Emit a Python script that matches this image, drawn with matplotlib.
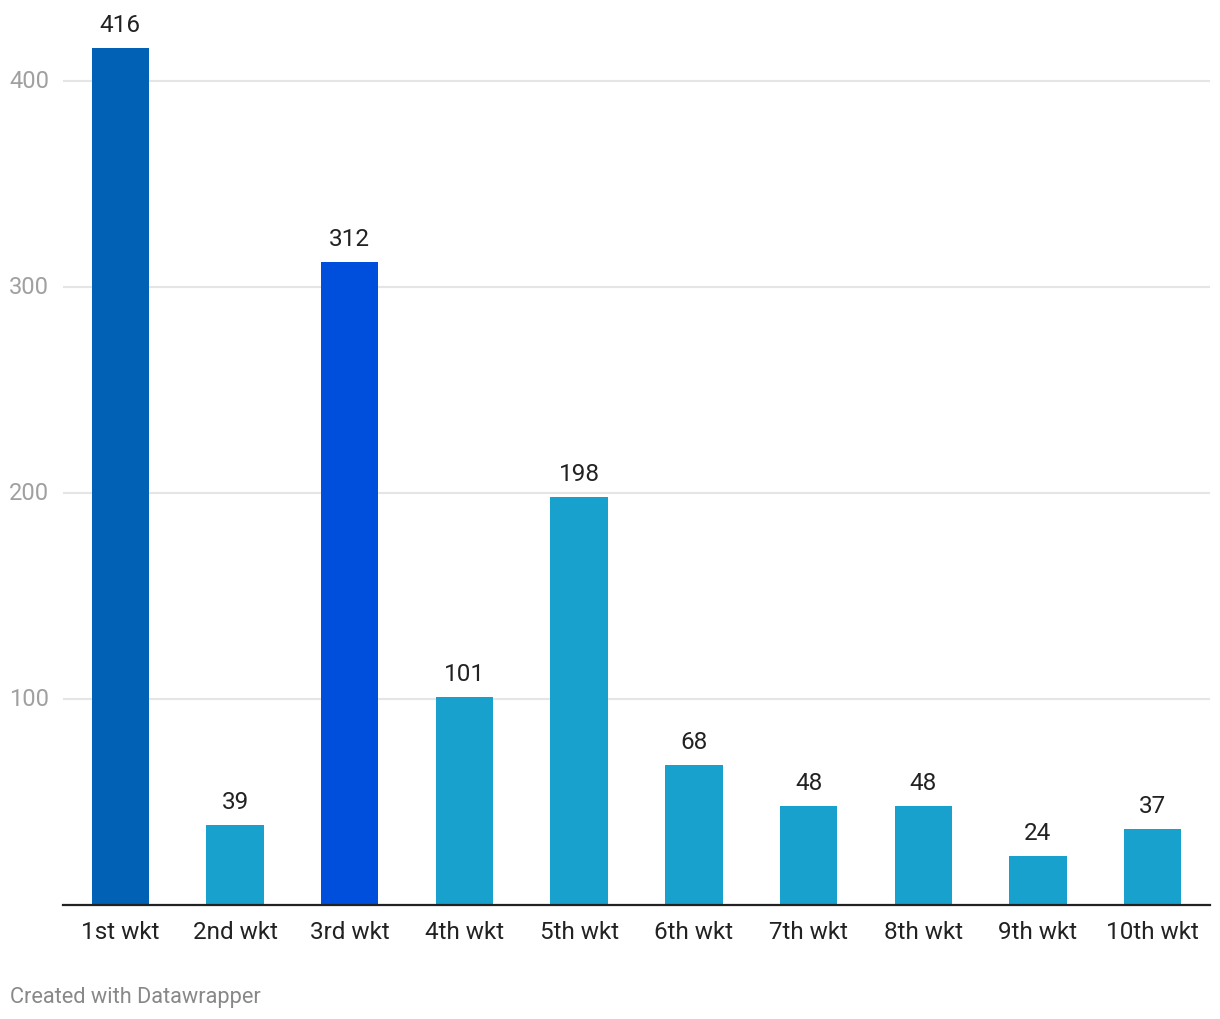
import matplotlib
matplotlib.use("Agg")
import matplotlib.pyplot as plt

categories = ["1st wkt", "2nd wkt", "3rd wkt", "4th wkt", "5th wkt",
              "6th wkt", "7th wkt", "8th wkt", "9th wkt", "10th wkt"]
values = [416, 39, 312, 101, 198, 68, 48, 48, 24, 37]
bar_colors = ["#0061b5", "#18a1cd", "#004fdc", "#18a1cd", "#18a1cd",
              "#18a1cd", "#18a1cd", "#18a1cd", "#18a1cd", "#18a1cd"]
yticks = [100, 200, 300, 400]

plt.rcParams['font.family'] = ['Roboto', 'DejaVu Sans']

W, H = 1220, 1020
fig = plt.figure(figsize=(W / 100, H / 100), dpi=100)
left, right, bottom_px, top_px = 63, 1210, 906, 40
ax = fig.add_axes([left / W, (H - bottom_px) / H, (right - left) / W, (bottom_px - top_px) / H])

x = list(range(len(categories)))
ax.bar(x, values, width=0.5, color=bar_colors, zorder=3)
for xi, v in zip(x, values):
    ax.annotate(str(v), (xi, v), xytext=(0, 8.5), textcoords="offset points",
                ha="center", va="bottom", fontsize=17.5, color="#222222",
                annotation_clip=False)

ax.set_xlim(-0.5, len(categories) - 0.5)
ax.set_ylim(0, (bottom_px - top_px) / 2.06)
ax.set_yticks(yticks)
ax.set_yticklabels([str(t) for t in yticks])
ax.set_xticks(x)
ax.set_xticklabels(categories)

for t in yticks:
    ax.axhline(t, color="#e5e5e5", lw=1.5, zorder=1)

for s in ["top", "right", "left"]:
    ax.spines[s].set_visible(False)
ax.spines["bottom"].set_color("#222222")
ax.spines["bottom"].set_linewidth(1.6)
ax.spines["bottom"].set_zorder(4)

ax.tick_params(axis="y", length=0, pad=10, labelsize=17, labelcolor="#a0a0a0")
ax.tick_params(axis="x", length=0, pad=10.5, labelsize=17.5, labelcolor="#222222")
for lbl in ax.get_yticklabels():
    lbl.set_verticalalignment("center")

fig.text(10 / W, 1 - 998 / H, "Created with Datawrapper", fontsize=15.7,
         color="#888888", ha="left", va="center")

fig.savefig("out.png", dpi=100, facecolor="white")
